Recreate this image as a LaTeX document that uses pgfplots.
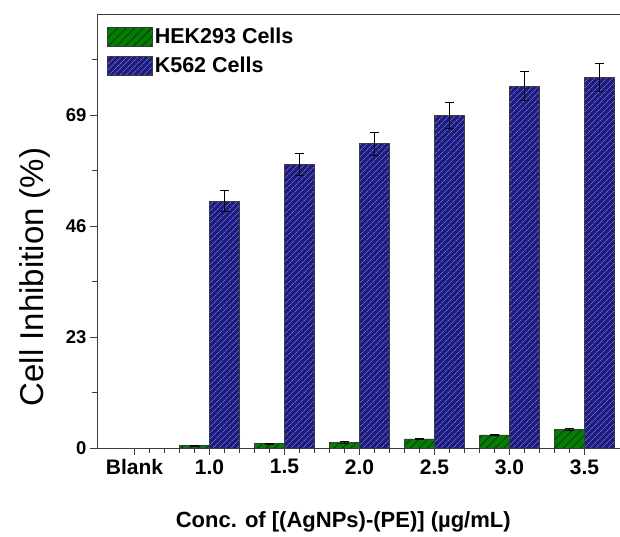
\documentclass[border=0pt]{standalone}
\usepackage{pgfplots}
\pgfplotsset{compat=1.18}
\usepackage{fontspec}
\setmainfont{Liberation Sans}
\usetikzlibrary{patterns.meta}
\definecolor{hekgreen}{RGB}{0,128,0}
\definecolor{hekline}{RGB}{0,55,0}
\definecolor{k562blue}{RGB}{28,28,130}
\definecolor{k562line}{RGB}{110,110,185}
\definecolor{axgray}{RGB}{60,60,60}
\begin{document}
\begin{tikzpicture}
\begin{axis}[
  scale only axis,
  width=525pt, height=434pt,
  xmin=-0.5, xmax=6.5,
  ymin=0, ymax=90,
  ybar=0pt, bar width=0.4,
  axis line style={axgray, line width=0.9pt},
  xtick={0,1,2,3,4,5,6},
  xticklabels={Blank,1.0,1.5,2.0,2.5,3.0,3.5},
  minor x tick num=4,
  ytick={0,23,46,69},
  minor ytick={11.5,34.5,57.5,80.5},
  xtick pos=bottom, ytick pos=left,
  tick align=outside,
  major tick length=7pt, minor tick length=5pt,
  every tick/.style={axgray, line width=0.8pt},
  /pgf/number format/assume math mode=true,
  xticklabel style={font=\fontsize{21}{21}\selectfont\bfseries, yshift=-1pt},
  yticklabel style={font=\fontsize{18.5}{18.5}\selectfont\bfseries},
  xlabel={Conc. of [(AgNPs)-(PE)] (µg/mL)},
  xlabel style={font=\fontsize{22}{22}\selectfont\bfseries, at={(axis description cs:0.469,0)}, anchor=center, yshift=-74pt},
  ylabel={Cell Inhibition (\%)},
  ylabel style={font=\fontsize{33}{33}\selectfont, at={(axis description cs:-0.118,0.394)}, anchor=center},
  legend style={at={(axis description cs:0,1)}, anchor=north west, draw=none, fill=none,
    font=\fontsize{21.5}{21.5}\selectfont\bfseries, xshift=8pt, yshift=-10pt,
    row sep=8pt, inner sep=2pt},
  legend cell align=left,
  legend image code/.code={\draw[#1,line width=0.6pt] (0pt,-9.5pt) rectangle (45pt,9.5pt);},
  error bars/y dir=both, error bars/y explicit,
  error bars/error bar style={black, line width=1pt},
  error bars/error mark options={black, rotate=90, mark size=4.5pt, line width=1pt},
]
\addplot[draw=axgray, line width=0.6pt, fill=hekgreen,
  postaction={pattern color=hekline, pattern={Lines[angle=45,distance=6pt,line width=0.9pt]}}]
  coordinates {(1,0.5) +- (0,0.1) (2,0.9) +- (0,0.1) (3,1.2) +- (0,0.2) (4,1.9) +- (0,0.15) (5,2.7) +- (0,0.2) (6,3.8) +- (0,0.2)};
\addlegendentry{HEK293 Cells}
\addplot[draw=axgray, line width=0.6pt, fill=k562blue,
  postaction={pattern color=k562line, pattern={Lines[angle=45,distance=4pt,line width=0.8pt]}}]
  coordinates {(1,51.2) +- (0,2.2) (2,58.8) +- (0,2.3) (3,63.1) +- (0,2.4) (4,69.0) +- (0,2.7) (5,75.0) +- (0,3.0) (6,76.9) +- (0,2.9)};
\addlegendentry{K562 Cells}
\end{axis}
\pgfresetboundingbox
\useasboundingbox (-97pt,-88pt) rectangle (523pt,448pt);
\end{tikzpicture}
\end{document}
